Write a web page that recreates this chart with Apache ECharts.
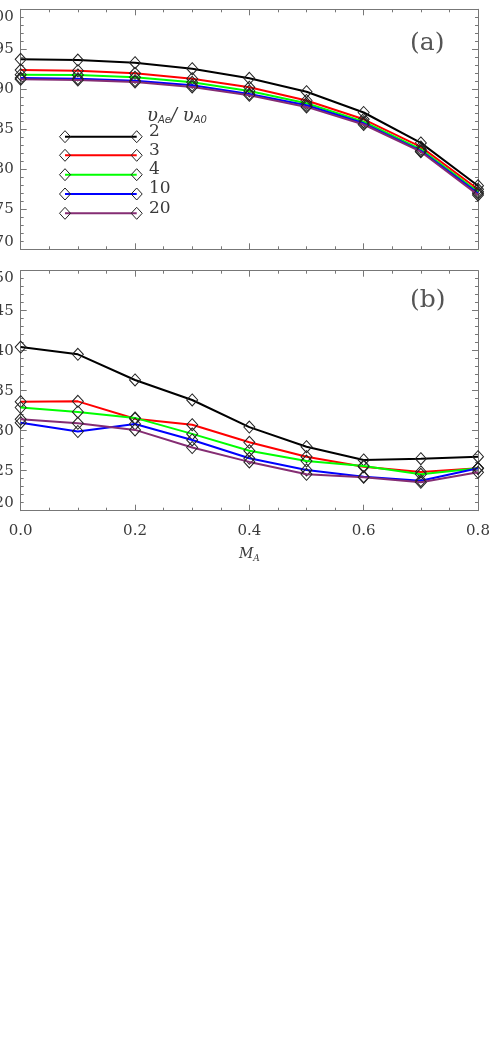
<!DOCTYPE html>
<html>
<head>
<meta charset="utf-8">
<script src="https://cdn.jsdelivr.net/npm/echarts@6/dist/echarts.min.js"></script>
<style>
  html, body { margin: 0; padding: 0; background: #fff; }
  #chart { width: 498px; height: 1044px; }
</style>
</head>
<body>
<div id="chart"></div>
<script>
// M_A values (x axis)
var machA = [0, 0.1, 0.2, 0.3, 0.4, 0.5, 0.6, 0.7, 0.8];
// vAe/vA0 ratios
var ratios = ['2', '3', '4', '10', '20'];
var lineColors = ['#000000', '#ff0000', '#00ff00', '#0000ff', '#852d73'];

// panel (a)
var panelA = [
  [93.75, 93.66, 93.33, 92.58, 91.37, 89.7, 87.1, 83.3, 77.95],
  [92.4, 92.33, 92.0, 91.33, 90.25, 88.6, 86.25, 82.8, 77.5],
  [91.83, 91.8, 91.5, 90.87, 89.8, 88.25, 85.95, 82.5, 77.2],
  [91.4, 91.33, 91.08, 90.5, 89.4, 88.0, 85.75, 82.3, 77.0],
  [91.25, 91.16, 90.9, 90.3, 89.25, 87.8, 85.6, 82.2, 76.8]
];
// panel (b)
var panelB = [
  [40.46, 39.55, 36.34, 33.84, 30.45, 28.0, 26.34, 26.5, 26.75],
  [33.63, 33.67, 31.5, 30.75, 28.55, 26.75, 25.5, 24.84, 25.3],
  [32.9, 32.34, 31.6, 29.6, 27.5, 26.2, 25.6, 24.55, 25.3],
  [31.0, 29.9, 30.84, 28.84, 26.55, 25.1, 24.25, 23.75, 25.3],
  [31.42, 30.92, 30.1, 27.9, 26.1, 24.55, 24.17, 23.55, 24.8]
];

var font = 'DejaVu Serif';
var axisCol = '#777';
var textCol = '#3a3a3a';

function xAx(grid, pos, labels) {
  return {
    type: 'value', gridIndex: grid, position: pos,
    min: 0, max: 0.8, interval: 0.2,
    axisLine: { show: true, onZero: false, lineStyle: { color: axisCol, width: 1 } },
    axisTick: { show: true, inside: true, length: 6, lineStyle: { color: axisCol } },
    minorTick: { show: true, splitNumber: 4, length: 3, lineStyle: { color: axisCol } },
    splitLine: { show: false },
    axisLabel: {
      show: labels, margin: 13, fontFamily: font, fontSize: 15, color: textCol,
      showMinLabel: true, showMaxLabel: true,
      formatter: function (v) { return v.toFixed(1); }
    },
    name: labels ? '{m|M}{s|A}' : '',
    nameLocation: 'middle', nameGap: 36,
    nameTextStyle: {
      rich: {
        m: { fontFamily: font, fontStyle: 'italic', fontSize: 14, color: textCol },
        s: { fontFamily: font, fontStyle: 'italic', fontSize: 9, color: textCol, verticalAlign: 'bottom', padding: [7, 0, 0, 0] }
      }
    }
  };
}

function yAx(grid, pos, lo, hi, labels) {
  return {
    type: 'value', gridIndex: grid, position: pos,
    min: lo, max: hi, interval: 5,
    axisLine: { show: true, onZero: false, lineStyle: { color: axisCol, width: 1 } },
    axisTick: { show: true, inside: true, length: 6, lineStyle: { color: axisCol } },
    minorTick: { show: true, splitNumber: 5, length: 3, lineStyle: { color: axisCol } },
    splitLine: { show: false },
    axisLabel: {
      show: labels, margin: 7, fontFamily: font, fontSize: 15, color: textCol,
      showMinLabel: true, showMaxLabel: true,
      verticalAlignMinLabel: 'bottom', verticalAlignMaxLabel: 'top'
    }
  };
}

var series = [];
ratios.forEach(function (r, i) {
  [panelA, panelB].forEach(function (panel, p) {
    series.push({
      name: r, type: 'line',
      xAxisIndex: p * 2, yAxisIndex: p * 2,
      data: machA.map(function (x, k) { return [x, panel[i][k]]; }),
      symbol: 'diamond', symbolSize: [11, 12],
      lineStyle: { color: lineColors[i], width: 2 },
      itemStyle: { color: 'rgba(0,0,0,0)', borderColor: '#222', borderWidth: 1 },
      z: 2 + i
    });
  });
});

// legend drawn as graphic
var legendY = [136.7, 155.3, 174.7, 194, 213.3];
var legendGfx = [];
ratios.forEach(function (r, i) {
  var y = legendY[i];
  legendGfx.push({ type: 'line', shape: { x1: 65, y1: y, x2: 136.7, y2: y }, style: { stroke: lineColors[i], lineWidth: 2 }, z: 10 });
  [65, 136.7].forEach(function (cx) {
    legendGfx.push({ type: 'polygon', shape: { points: [[cx, y - 6], [cx + 5.5, y], [cx, y + 6], [cx - 5.5, y]] },
      style: { fill: 'none', stroke: '#222', lineWidth: 1 }, z: 11 });
  });
  legendGfx.push({ type: 'text', x: 149, y: y - 5, style: { text: r, fontFamily: font, fontSize: 17, fill: textCol, verticalAlign: 'middle' }, z: 11 });
});
legendGfx.push({
  type: 'text', x: 147, y: 116,
  style: {
    text: '{u|υ}{s|Ae}{u|/ υ}{s|A0}',
    verticalAlign: 'middle',
    rich: {
      u: { fontFamily: font, fontStyle: 'italic', fontSize: 18, fill: textCol },
      s: { fontFamily: 'DejaVu Sans', fontStyle: 'italic', fontSize: 10, fill: textCol, padding: [9, 0, 0, 0] }
    }
  },
  z: 11
});
legendGfx.push({ type: 'text', x: 410, y: 43, style: { text: '(a)', fontFamily: font, fontSize: 25, fill: '#555', verticalAlign: 'middle' } });
legendGfx.push({ type: 'text', x: 410, y: 300, style: { text: '(b)', fontFamily: font, fontSize: 25, fill: '#555', verticalAlign: 'middle' } });

var option = {
  animation: false,
  backgroundColor: '#fff',
  grid: [
    { left: 20.7, top: 9.3, width: 457.3, height: 240, outerBoundsMode: 'none', containLabel: false },
    { left: 20.7, top: 270.7, width: 457.3, height: 240, outerBoundsMode: 'none', containLabel: false }
  ],
  xAxis: [xAx(0, 'bottom', false), xAx(0, 'top', false), xAx(1, 'bottom', true), xAx(1, 'top', false)],
  yAxis: [yAx(0, 'left', 70, 100, true), yAx(0, 'right', 70, 100, false), yAx(1, 'left', 20, 50, true), yAx(1, 'right', 20, 50, false)],
  series: series,
  graphic: legendGfx
};

var chart = echarts.init(document.getElementById('chart'));
chart.setOption(option);
</script>
</body>
</html>
